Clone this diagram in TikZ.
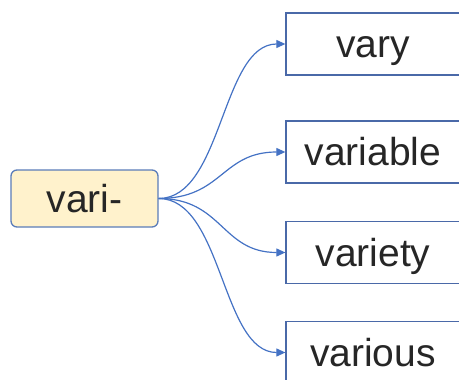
\documentclass[tikz,border=0pt]{standalone}
\usepackage{fontspec}
\setmainfont{Liberation Sans}
\usetikzlibrary{calc,arrows.meta}
\definecolor{rootfill}{HTML}{FFF2CC}
\definecolor{rootdraw}{HTML}{5B7DB9}
\definecolor{boxdraw}{HTML}{4A69A8}
\definecolor{conncol}{HTML}{4472C4}
\tikzset{
  rootbox/.style={draw=rootdraw, fill=rootfill, line width=1.3pt, rounded corners=6pt,
    minimum width=147pt, minimum height=57pt, inner sep=0pt,
    text height=28pt, text depth=0pt,
    font=\fontsize{39}{46}\selectfont, text=black!85},
  wordbox/.style={draw=boxdraw, fill=white, line width=1.3pt,
    minimum width=174pt, minimum height=62pt, inner sep=0pt,
    text height=27pt, text depth=0pt,
    font=\fontsize{39}{46}\selectfont, text=black!85},
  conn/.style={draw=conncol, line width=1.2pt, -{Triangle[length=9pt,width=8pt]}}
}
\begin{document}
\begin{tikzpicture}[x=1pt,y=-1pt]
\useasboundingbox (0,0) rectangle (459,380);
\clip (0,0) rectangle (459,380);
\node[rootbox] (root) at (84.5,198.5) {vari-};
\node[wordbox] (vary) at (373,44) {vary};
\node[wordbox] (variable) at (373,152) {variable};
\node[wordbox] (variety) at (373,252.5) {variety};
\node[wordbox] (various) at (373,352.5) {various};
\foreach \t in {vary,variable,variety,various}{
  \draw[conn] (root.east) .. controls ($(root.east)+(64,0)$) and ($(\t.west)+(-64,0)$) .. (\t.west);
}
\end{tikzpicture}
\end{document}
